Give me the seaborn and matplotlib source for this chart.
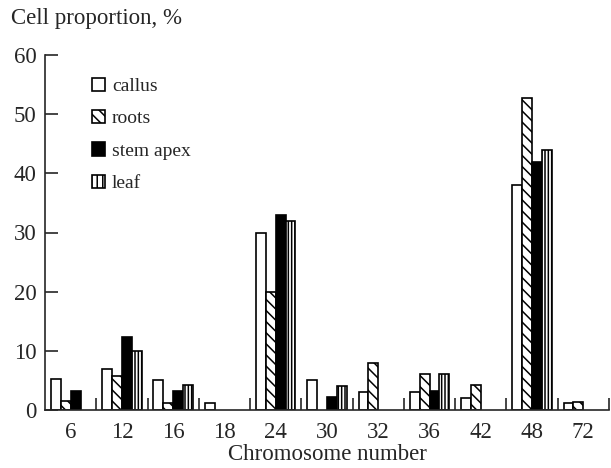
import numpy as np
import pandas as pd
import matplotlib
matplotlib.use("Agg")
import matplotlib.pyplot as plt
import seaborn as sns
from matplotlib.ticker import FixedLocator
from matplotlib.patches import Patch

categories = ["6", "12", "16", "18", "24", "30", "32", "36", "42", "48", "72"]
series_names = ["callus", "roots", "stem apex", "leaf"]
callus = [5.2, 7.0, 5.0, 1.1, 30.0, 5.0, 3.1, 3.0, 2.1, 38.0, 1.1]
roots = [1.6, 5.8, 1.2, 0.0, 20.0, 0.0, 7.9, 6.1, 4.2, 52.7, 1.3]
stem_apex = [3.2, 12.3, 3.2, 0.0, 33.0, 2.2, 0.0, 3.2, 0.0, 42.0, 0.0]
leaf = [0.0, 10.0, 4.2, 0.0, 32.0, 4.1, 0.0, 6.1, 0.0, 44.0, 0.0]
y_ticks = [0, 10, 20, 30, 40, 50, 60]

rows = []
for name, vals in zip(series_names, [callus, roots, stem_apex, leaf]):
    for c, v in zip(categories, vals):
        if v > 0:
            rows.append({"chrom": c, "tissue": name, "value": v})
df = pd.DataFrame(rows)

sns.set_style("ticks")
plt.rcParams["font.family"] = ["Liberation Serif", "DejaVu Serif"]
plt.rcParams["hatch.linewidth"] = 1.1
plt.rcParams["hatch.color"] = "black"

fig = plt.figure(figsize=(6.11, 4.68), dpi=100)
ax = fig.add_axes([45 / 611, 1 - 410 / 468, 564 / 611, 355 / 468])

sns.barplot(data=df, x="chrom", y="value", hue="tissue", order=categories,
            hue_order=series_names, width=0.77, gap=0, dodge=True,
            edgecolor="black", linewidth=1.2, errorbar=None, ax=ax,
            palette=["white", "white", "black", "white"], legend=False)

hatches = ["", "\\\\\\", "", "|||||"]
for cont, h in zip(ax.containers, hatches):
    for p in cont.patches:
        p.set_hatch(h)
        p.set_edgecolor("black")

ax.set_xlim(-0.5, len(categories) - 0.5)
ax.set_ylim(0, 60)
ax.set_yticks(y_ticks)
ax.set_xticks(range(len(categories)))
ax.set_xticklabels(categories)
ax.xaxis.set_minor_locator(FixedLocator(np.arange(0.5, len(categories), 1.0)))
ax.tick_params(axis="x", which="major", length=0, labelsize=16.5, pad=9)
ax.tick_params(axis="x", which="minor", direction="in", length=9, width=1.2)
ax.tick_params(axis="y", which="major", direction="in", length=9, width=1.2,
               labelsize=16.5, pad=6)
for s in ["top", "right"]:
    ax.spines[s].set_visible(False)
for s in ["left", "bottom"]:
    ax.spines[s].set_linewidth(1.2)
ax.set_xlabel("Chromosome number", fontsize=16.5, labelpad=0)
ax.set_ylabel("")

handles = [Patch(facecolor=fc, edgecolor="black", hatch=h, linewidth=1.2)
           for fc, h in zip(["white", "white", "black", "white"],
                            ["", "\\\\\\", "", "|||"])]
ax.legend(handles, series_names, loc="upper left", bbox_to_anchor=(0.083, 0.936),
          frameon=False, fontsize=14, handlelength=0.68, handleheight=0.68,
          handletextpad=0.35, labelspacing=0.76, borderpad=0, borderaxespad=0)

fig.text(11 / 611, 1 - 8 / 468, "Cell proportion, %", fontsize=16.5,
         ha="left", va="top")

fig.savefig("out.png", dpi=100)
